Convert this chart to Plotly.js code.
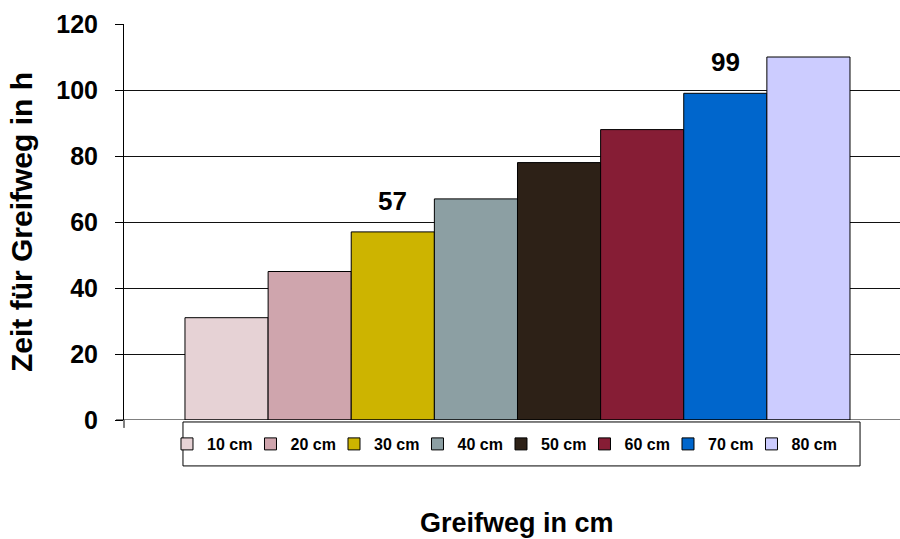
<!DOCTYPE html>
<html>
<head>
<meta charset="utf-8">
<script src="https://cdn.plot.ly/plotly-3.0.1.min.js"></script>
<style>html,body{margin:0;padding:0;background:#fff}#chart{width:900px;height:539px}</style>
</head>
<body>
<div id="chart"></div>
<script>
const categories = ['10 cm', '20 cm', '30 cm', '40 cm', '50 cm', '60 cm', '70 cm', '80 cm'];
const values = [31, 45, 57, 67, 78, 88, 99, 110];
const labelText = ['', '', '57', '', '', '', '99', ''];
const colors = ['#E6D2D5', '#CFA5AD', '#CDB400', '#8C9FA3', '#2D2117', '#861D35', '#0066CC', '#CCCCFF'];
const yTickVals = [0, 20, 40, 60, 80, 100, 120];
const yTitle = 'Zeit für Greifweg in h';
const xTitle = 'Greifweg in cm';

const FONT = 'Liberation Sans, Arial, sans-serif';
const n = categories.length;

const traces = categories.map((c, i) => ({
  type: 'bar',
  name: c,
  x: [0],
  y: [values[i]],
  legendwidth: i === n - 1 ? 60 : 38.5,
  marker: {color: colors[i], line: {color: '#000', width: 1}},
  hoverinfo: 'skip'
}));

const annotations = [];
labelText.forEach((t, i) => {
  if (t) {
    annotations.push({
      xref: 'x', yref: 'y',
      x: (i - (n - 1) / 2) / n,
      y: values[i],
      yshift: 31,
      yanchor: 'middle',
      text: t,
      showarrow: false,
      font: {family: FONT, size: 26, weight: 'bold', color: '#000'}
    });
  }
});
annotations.push({
  xref: 'x', yref: 'paper',
  x: 0, y: -0.26,
  xanchor: 'center', yanchor: 'middle',
  text: xTitle,
  showarrow: false,
  font: {family: FONT, size: 27, weight: 'bold', color: '#000'}
});

const layout = {
  width: 900, height: 539,
  margin: {l: 124, r: 0, t: 24, b: 119, pad: 0},
  paper_bgcolor: '#fff', plot_bgcolor: '#fff',
  barmode: 'group', bargap: 0, bargroupgap: 0,
  showlegend: true,
  legend: {
    orientation: 'h', x: 0.0554, xanchor: 'left', y: -0.0606, yanchor: 'middle',
    bgcolor: 'rgba(0,0,0,0)', borderwidth: 0,
    entrywidth: 38.5, itemclick: false, itemdoubleclick: false, traceorder: 'normal',
    font: {family: FONT, size: 16, weight: 'bold', color: '#000'}
  },
  xaxis: {
    range: [-0.5917, 0.5752],
    showticklabels: false, ticks: '', showgrid: false, zeroline: false,
    showline: false, fixedrange: true
  },
  yaxis: {
    range: [0, 120], tickvals: yTickVals, ticktext: yTickVals.map(String),
    ticks: 'outside', ticklen: 8, tickwidth: 1, tickcolor: '#000',
    showline: true, linecolor: '#000', linewidth: 1,
    showgrid: true, gridcolor: '#111', gridwidth: 1, zeroline: false,
    ticklabelstandoff: 12,
    tickfont: {family: FONT, size: 25, weight: 'bold', color: '#000'},
    title: {text: yTitle, standoff: 14, font: {family: FONT, size: 30, weight: 'bold', color: '#000'}},
    fixedrange: true
  },
  shapes: [
    {type: 'line', xref: 'paper', yref: 'y', x0: -0.0103, x1: 1, y0: 0, y1: 0, line: {color: '#000', width: 1}},
    {type: 'line', xref: 'paper', yref: 'paper', x0: 0, x1: 0, y0: 0, y1: -0.02, line: {color: '#000', width: 1}},
    {type: 'rect', xref: 'paper', yref: 'paper', x0: 0.0760, x1: 0.9485, y0: -0.005, y1: -0.116,
     line: {color: '#000', width: 1}, fillcolor: 'rgba(0,0,0,0)'}
  ],
  annotations: annotations,
  hovermode: false
};

Plotly.newPlot('chart', traces, layout, {displayModeBar: false, staticPlot: true});
</script>
</body>
</html>
